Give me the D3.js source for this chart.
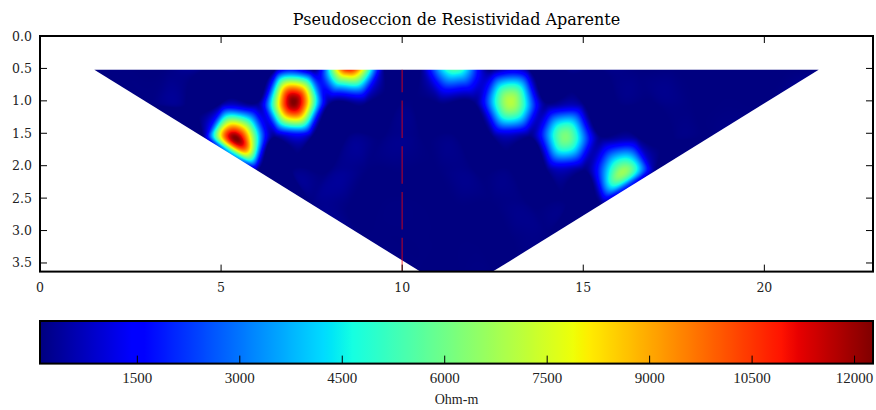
<!DOCTYPE html>
<html>
<head>
<meta charset="utf-8">
<script src="https://cdn.jsdelivr.net/npm/d3@7/dist/d3.min.js"></script>
<style>
  html, body { margin: 0; padding: 0; background: #fff; }
  svg { display: block; }
</style>
</head>
<body>
<svg id="chart" width="876" height="410"></svg>
<script>
// Wenner profile: 24 electrodes, 1 m apart, separations n = 1..7
const electrodeSpacing = 1;
const electrodeCount = 24;
const depthFactor = 0.519;            // pseudo-depth z = 0.519 * n * a
const separations = [1, 2, 3, 4, 5, 6, 7];

// Apparent resistivity (Ohm-m) per separation, left to right along the line
const rhoN1 = [90, 95, 110, 100, 95, 110, 150, 10800, 140, 110, 5450, 120, 95, 90, 85, 85, 80, 80, 78, 76, 75];
const rhoN2 = [95, 110, 130, 180, 12270, 200, 130, 95, 90, 110, 7050, 120, 95, 90, 85, 85, 90, 80];
const rhoN3 = [120, 11800, 170, 120, 110, 100, 90, 85, 90, 110, 6200, 120, 95, 85, 80];
const rhoN4 = [110, 120, 110, 100, 90, 85, 80, 80, 85, 100, 6400, 110];
const rhoN5 = [100, 95, 90, 85, 80, 80, 85, 90, 105];
const rhoN6 = [90, 85, 80, 78, 80, 85];
const rhoN7 = [85, 80, 82];
const levelValues = [rhoN1, rhoN2, rhoN3, rhoN4, rhoN5, rhoN6, rhoN7];

const xTicks = [0, 5, 10, 15, 20];
const yTicks = [0, 0.5, 1.0, 1.5, 2.0, 2.5, 3.0, 3.5];
const cbTicks = [1500, 3000, 4500, 6000, 7500, 9000, 10500, 12000];
const markerPosition = 10;             // reference line along the profile (m)

const titleText = "Pseudoseccion de Resistividad Aparente";
const unitText = "Ohm-m";

// ---------------------------------------------------------------- layout
const svg = d3.select("#chart");
const plot = { left: 40, right: 873, top: 36, bottom: 271.6 };
const bar = { left: 40, right: 873, top: 321, bottom: 363.6 };
const serif = "'DejaVu Serif', serif";
const barFont = "'Liberation Serif', 'Times New Roman', serif";

const maxDepth = depthFactor * d3.max(separations) * electrodeSpacing;
const x = d3.scaleLinear().domain([0, (electrodeCount - 1) * electrodeSpacing]).range([plot.left, plot.right]);
const y = d3.scaleLinear().domain([0, maxDepth]).range([plot.top, plot.bottom]);

// ---------------------------------------------------------------- measurement points
const points = [], values = [];
levelValues.forEach((row, i) => {
  const n = separations[i];
  row.forEach((v, k) => {
    points.push([1.5 * n * electrodeSpacing + k * electrodeSpacing, depthFactor * n * electrodeSpacing]);
    values.push(v);
  });
});
const [vmin, vmax] = d3.extent(values);

// jet colormap
const jetR = d3.scaleLinear().domain([0, 0.35, 0.66, 0.89, 1]).range([0, 0, 1, 1, 0.5]).clamp(true);
const jetG = d3.scaleLinear().domain([0, 0.125, 0.375, 0.64, 0.91, 1]).range([0, 0, 1, 1, 0, 0]).clamp(true);
const jetB = d3.scaleLinear().domain([0, 0.11, 0.34, 0.65, 1]).range([0.5, 1, 1, 0, 0]).clamp(true);
const norm = d3.scaleLinear().domain([vmin, vmax]).range([0, 1]).clamp(true);
const jet = t => [jetR(t), jetG(t), jetB(t)];
const jetCss = t => { const c = jet(t); return d3.rgb(c[0] * 255, c[1] * 255, c[2] * 255).formatHex(); };

// ---------------------------------------------------------------- Clough-Tocher interpolation
const delaunay = d3.Delaunay.from(points);
const tri = delaunay.triangles, half = delaunay.halfedges;
const N = points.length, nT = tri.length / 3;

// gradients at the nodes, minimum-curvature estimate
const nbrs = d3.range(N).map(i => Array.from(delaunay.neighbors(i)));
const grad = d3.range(N).map(() => [0, 0]);
for (let it = 0; it < 400; it++) {
  let err = 0;
  for (let i = 0; i < N; i++) {
    let q0 = 0, q1 = 0, q3 = 0, s0 = 0, s1 = 0;
    for (const j of nbrs[i]) {
      const ex = points[j][0] - points[i][0], ey = points[j][1] - points[i][1];
      const L = Math.hypot(ex, ey), L3 = L * L * L;
      const df2 = -ex * grad[j][0] - ey * grad[j][1];
      const t = 6 * (values[i] - values[j]) - 2 * df2;
      q0 += 4 * ex * ex / L3; q1 += 4 * ex * ey / L3; q3 += 4 * ey * ey / L3;
      s0 += t * ex / L3; s1 += t * ey / L3;
    }
    const det = q0 * q3 - q1 * q1;
    const r0 = (q3 * s0 - q1 * s1) / det, r1 = (-q1 * s0 + q0 * s1) / det;
    const change = Math.max(Math.abs(grad[i][0] + r0), Math.abs(grad[i][1] + r1)) /
                   Math.max(1, Math.abs(r0), Math.abs(r1));
    grad[i] = [-r0, -r1];
    err = Math.max(err, change);
  }
  if (err < 1e-6) break;
}

function triPts(t) { return [points[tri[3 * t]], points[tri[3 * t + 1]], points[tri[3 * t + 2]]]; }
function area2(P) { return (P[1][0] - P[0][0]) * (P[2][1] - P[0][1]) - (P[2][0] - P[0][0]) * (P[1][1] - P[0][1]); }
function bary(P, px, py) {
  const [x0, y0] = P[0], [x1, y1] = P[1], [x2, y2] = P[2];
  const det = (y1 - y2) * (x0 - x2) + (x2 - x1) * (y0 - y2);
  const l0 = ((y1 - y2) * (px - x2) + (x2 - x1) * (py - y2)) / det;
  const l1 = ((y2 - y0) * (px - x2) + (x0 - x2) * (py - y2)) / det;
  return [l0, l1, 1 - l0 - l1];
}
const valid = d3.range(nT).map(t => Math.abs(area2(triPts(t))) > 1e-9);

const elements = d3.range(nT).map(t => {
  if (!valid[t]) return null;
  const P = triPts(t);
  const id = [tri[3 * t], tri[3 * t + 1], tri[3 * t + 2]];
  const f = id.map(i => values[i]), df = id.map(i => grad[i]);
  const e12 = [P[1][0] - P[0][0], P[1][1] - P[0][1]];
  const e23 = [P[2][0] - P[1][0], P[2][1] - P[1][1]];
  const e31 = [P[0][0] - P[2][0], P[0][1] - P[2][1]];
  const dot = (a, b) => a[0] * b[0] + a[1] * b[1];
  const df12 = dot(df[0], e12), df21 = -dot(df[1], e12);
  const df23 = dot(df[1], e23), df32 = -dot(df[2], e23);
  const df31 = dot(df[2], e31), df13 = -dot(df[0], e31);
  const C = {};
  C.c3000 = f[0]; C.c2100 = (df12 + 3 * C.c3000) / 3; C.c2010 = (df13 + 3 * C.c3000) / 3;
  C.c0300 = f[1]; C.c1200 = (df21 + 3 * C.c0300) / 3; C.c0210 = (df23 + 3 * C.c0300) / 3;
  C.c0030 = f[2]; C.c1020 = (df31 + 3 * C.c0030) / 3; C.c0120 = (df32 + 3 * C.c0030) / 3;
  C.c2001 = (C.c2100 + C.c2010 + C.c3000) / 3;
  C.c0201 = (C.c1200 + C.c0300 + C.c0210) / 3;
  C.c0021 = (C.c1020 + C.c0120 + C.c0030) / 3;
  const g = [0, 0, 0];
  for (let k = 0; k < 3; k++) {
    const o = half[3 * t + (k + 1) % 3];
    const tn = o < 0 ? -1 : Math.floor(o / 3);
    if (tn < 0 || !valid[tn]) { g[k] = -0.5; continue; }
    const Q = triPts(tn);
    const c = bary(P, (Q[0][0] + Q[1][0] + Q[2][0]) / 3, (Q[0][1] + Q[1][1] + Q[2][1]) / 3);
    if (k === 0) g[k] = (2 * c[2] + c[1] - 1) / (2 - 3 * c[2] - 3 * c[1]);
    else if (k === 1) g[k] = (2 * c[0] + c[2] - 1) / (2 - 3 * c[0] - 3 * c[2]);
    else g[k] = (2 * c[1] + c[0] - 1) / (2 - 3 * c[1] - 3 * c[0]);
  }
  C.c0111 = (g[0] * (-C.c0300 + 3 * C.c0210 - 3 * C.c0120 + C.c0030) +
             (-C.c0300 + 2 * C.c0210 - C.c0120 + C.c0021 + C.c0201)) / 2;
  C.c1011 = (g[1] * (-C.c0030 + 3 * C.c1020 - 3 * C.c2010 + C.c3000) +
             (-C.c0030 + 2 * C.c1020 - C.c2010 + C.c2001 + C.c0021)) / 2;
  C.c1101 = (g[2] * (-C.c3000 + 3 * C.c2100 - 3 * C.c1200 + C.c0300) +
             (-C.c3000 + 2 * C.c2100 - C.c1200 + C.c2001 + C.c0201)) / 2;
  C.c1002 = (C.c1101 + C.c1011 + C.c2001) / 3;
  C.c0102 = (C.c1101 + C.c0111 + C.c0201) / 3;
  C.c0012 = (C.c1011 + C.c0111 + C.c0021) / 3;
  C.c0003 = (C.c1002 + C.c0102 + C.c0012) / 3;
  return { P, C };
});

function evalCT(C, b) {
  const m = Math.min(b[0], b[1], b[2]);
  const b1 = b[0] - m, b2 = b[1] - m, b3 = b[2] - m, b4 = 3 * m;
  return b1 ** 3 * C.c3000 + 3 * b1 * b1 * b2 * C.c2100 + 3 * b1 * b1 * b3 * C.c2010 +
    3 * b1 * b1 * b4 * C.c2001 + 3 * b1 * b2 * b2 * C.c1200 + 6 * b1 * b2 * b4 * C.c1101 +
    3 * b1 * b3 * b3 * C.c1020 + 6 * b1 * b3 * b4 * C.c1011 + 3 * b1 * b4 * b4 * C.c1002 +
    b2 ** 3 * C.c0300 + 3 * b2 * b2 * b3 * C.c0210 + 3 * b2 * b2 * b4 * C.c0201 +
    3 * b2 * b3 * b3 * C.c0120 + 6 * b2 * b3 * b4 * C.c0111 + 3 * b2 * b4 * b4 * C.c0102 +
    b3 ** 3 * C.c0030 + 3 * b3 * b3 * b4 * C.c0021 + 3 * b3 * b4 * b4 * C.c0012 + b4 ** 3 * C.c0003;
}

// ---------------------------------------------------------------- raster of the section
const gx0 = Math.floor(plot.left), gy0 = Math.floor(plot.top);
const gw = Math.ceil(plot.right) - gx0, gh = Math.ceil(plot.bottom) - gy0;
const grid = new Float32Array(gw * gh).fill(NaN);
elements.forEach(el => {
  if (!el) return;
  const xs = el.P.map(p => x(p[0])), ys = el.P.map(p => y(p[1]));
  const c0 = Math.max(0, Math.floor(d3.min(xs)) - gx0 - 1), c1 = Math.min(gw - 1, Math.ceil(d3.max(xs)) - gx0 + 1);
  const r0 = Math.max(0, Math.floor(d3.min(ys)) - gy0 - 1), r1 = Math.min(gh - 1, Math.ceil(d3.max(ys)) - gy0 + 1);
  for (let r = r0; r <= r1; r++) {
    const dy = y.invert(gy0 + r + 0.5);
    for (let c = c0; c <= c1; c++) {
      const b = bary(el.P, x.invert(gx0 + c + 0.5), dy);
      if (b[0] < -1e-9 || b[1] < -1e-9 || b[2] < -1e-9) continue;
      grid[r * gw + c] = evalCT(el.C, b);
    }
  }
});
// extend a couple of pixels past the hull so the clipped edge stays smooth
for (let pass = 0; pass < 3; pass++) {
  const copy = grid.slice();
  for (let r = 0; r < gh; r++) for (let c = 0; c < gw; c++) {
    if (!isNaN(copy[r * gw + c])) continue;
    let s = 0, n = 0;
    for (const [dr, dc] of [[-1, 0], [1, 0], [0, -1], [0, 1]]) {
      const rr = r + dr, cc = c + dc;
      if (rr < 0 || rr >= gh || cc < 0 || cc >= gw) continue;
      const v = copy[rr * gw + cc];
      if (!isNaN(v)) { s += v; n++; }
    }
    if (n) grid[r * gw + c] = s / n;
  }
}
const canvas = document.createElement("canvas");
canvas.width = gw; canvas.height = gh;
const ctx = canvas.getContext("2d");
const img = ctx.createImageData(gw, gh);
for (let i = 0; i < gw * gh; i++) {
  const v = grid[i];
  if (isNaN(v)) continue;
  const c = jet(norm(v));
  img.data[4 * i] = Math.round(c[0] * 255);
  img.data[4 * i + 1] = Math.round(c[1] * 255);
  img.data[4 * i + 2] = Math.round(c[2] * 255);
  img.data[4 * i + 3] = 255;
}
ctx.putImageData(img, 0, 0);

const defs = svg.append("defs");
defs.append("clipPath").attr("id", "hull")
  .append("polygon")
  .attr("points", delaunay.hullPolygon().map(p => [x(p[0]), y(p[1])].join(",")).join(" "));

svg.append("image")
  .attr("x", gx0).attr("y", gy0).attr("width", gw).attr("height", gh)
  .attr("preserveAspectRatio", "none")
  .attr("href", canvas.toDataURL())
  .attr("clip-path", "url(#hull)");

// reference line
svg.append("line")
  .attr("x1", x(markerPosition)).attr("x2", x(markerPosition))
  .attr("y1", y(depthFactor * electrodeSpacing)).attr("y2", y(maxDepth))
  .attr("stroke", "rgb(255,0,0)").attr("stroke-opacity", 0.5)
  .attr("stroke-width", 1.5)
  .attr("stroke-dasharray", "37.5,8.3").attr("stroke-dashoffset", 15);

// ---------------------------------------------------------------- axes frame and ticks
const tickLen = 7;
const axes = svg.append("g").attr("stroke", "#000").attr("stroke-width", 1);
xTicks.forEach(v => {
  axes.append("line").attr("x1", x(v)).attr("x2", x(v)).attr("y1", plot.bottom).attr("y2", plot.bottom - tickLen);
  axes.append("line").attr("x1", x(v)).attr("x2", x(v)).attr("y1", plot.top).attr("y2", plot.top + tickLen);
});
yTicks.forEach(v => {
  axes.append("line").attr("x1", plot.left).attr("x2", plot.left + tickLen).attr("y1", y(v)).attr("y2", y(v));
  axes.append("line").attr("x1", plot.right).attr("x2", plot.right - tickLen).attr("y1", y(v)).attr("y2", y(v));
});
svg.append("rect")
  .attr("x", plot.left).attr("y", plot.top)
  .attr("width", plot.right - plot.left).attr("height", plot.bottom - plot.top)
  .attr("fill", "none").attr("stroke", "#000").attr("stroke-width", 2);

svg.append("g").selectAll("text").data(xTicks).join("text")
  .attr("x", d => x(d)).attr("y", plot.bottom + 20)
  .attr("text-anchor", "middle")
  .style("font-family", serif).style("font-size", "12.5px").attr("fill", "#222")
  .text(d => d);
svg.append("g").selectAll("text").data(yTicks).join("text")
  .attr("x", plot.left - 8).attr("y", d => y(d) + 4.5)
  .attr("text-anchor", "end")
  .style("font-family", serif).style("font-size", "12.5px").attr("fill", "#222")
  .text(d3.format(".1f"));

svg.append("text")
  .attr("x", (plot.left + plot.right) / 2).attr("y", 25)
  .attr("text-anchor", "middle")
  .style("font-family", serif).style("font-size", "16px").attr("fill", "#000")
  .text(titleText);

// ---------------------------------------------------------------- colorbar
const cb = d3.scaleLinear().domain([vmin, vmax]).range([bar.left, bar.right]);
const grad1 = defs.append("linearGradient").attr("id", "jetbar")
  .attr("x1", "0%").attr("x2", "100%").attr("y1", "0%").attr("y2", "0%");
d3.range(0, 1.0001, 0.005).forEach(t => {
  grad1.append("stop").attr("offset", (t * 100) + "%").attr("stop-color", jetCss(t));
});
svg.append("rect")
  .attr("x", bar.left).attr("y", bar.top)
  .attr("width", bar.right - bar.left).attr("height", bar.bottom - bar.top)
  .attr("fill", "url(#jetbar)");
svg.append("g").selectAll("line").data(cbTicks).join("line")
  .attr("x1", d => cb(d)).attr("x2", d => cb(d))
  .attr("y1", bar.bottom).attr("y2", bar.bottom - 8)
  .attr("stroke", "#000").attr("stroke-width", 1);
svg.append("rect")
  .attr("x", bar.left).attr("y", bar.top)
  .attr("width", bar.right - bar.left).attr("height", bar.bottom - bar.top)
  .attr("fill", "none").attr("stroke", "#000").attr("stroke-width", 2);
svg.append("g").selectAll("text").data(cbTicks).join("text")
  .attr("x", d => cb(d)).attr("y", 383)
  .attr("text-anchor", "middle")
  .style("font-family", barFont).style("font-size", "15px").attr("fill", "#222")
  .text(d => d);
svg.append("text")
  .attr("x", (bar.left + bar.right) / 2).attr("y", 404)
  .attr("text-anchor", "middle")
  .style("font-family", barFont).style("font-size", "14px").attr("fill", "#222")
  .text(unitText);
</script>
</body>
</html>
